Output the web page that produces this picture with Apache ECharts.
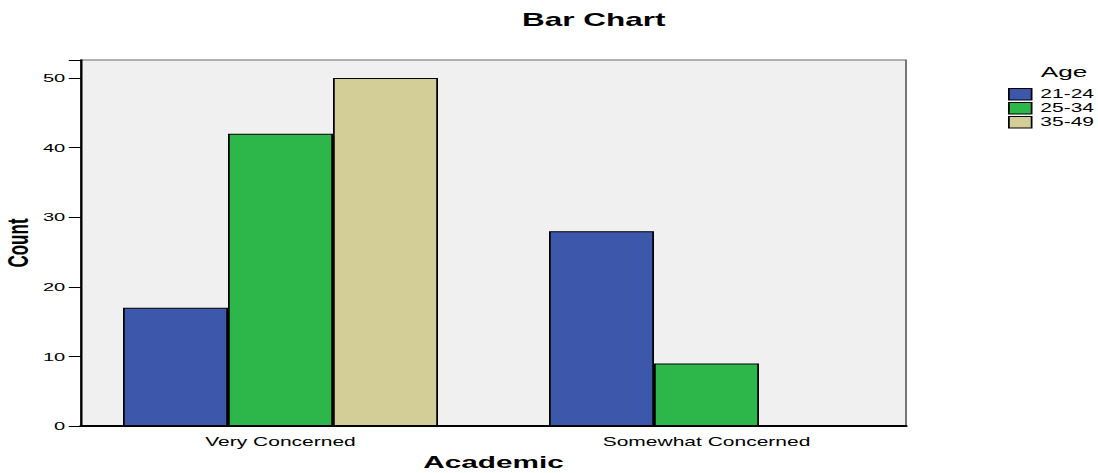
<!DOCTYPE html>
<html>
<head>
<meta charset="utf-8">
<script src="https://cdn.jsdelivr.net/npm/echarts@6/dist/echarts.min.js"></script>
<style>
  html, body { margin: 0; padding: 0; background: #fff; overflow: hidden; }
  /* the original picture is stretched sideways, so draw narrow and stretch the same way */
  #myBarChart {
    width: 627.43px;
    height: 473px;
    transform: scaleX(1.75);
    transform-origin: 0 0;
  }
</style>
</head>
<body>
<div id="myBarChart"></div>
<script>
// data
const categories = ['Very Concerned', 'Somewhat Concerned'];
const ageGroups = ['21-24', '25-34', '35-49'];
const age21to24 = [17, 28];
const age25to34 = [42, 9];
const age35to49 = [50, null];   // no bar drawn for Somewhat Concerned
const yTicks = [0, 10, 20, 30, 40, 50];

const colors = ['#3d57ab', '#2db74b', '#d3cd98'];
const seriesValues = [age21to24, age25to34, age35to49];

const yMax = 52.6;

let option = {
  animation: false,
  textStyle: { fontFamily: 'Liberation Sans, Arial, sans-serif' },
  title: [
    {
      text: 'Bar Chart',
      left: 334.3, top: 6, textAlign: 'center',
      textStyle: { fontSize: 18, fontWeight: 'bold', color: '#000' }
    },
    {
      text: 'Age',
      left: 603, top: 60, textAlign: 'center',
      textStyle: { fontSize: 15, fontWeight: 'normal', color: '#000' }
    }
  ],
  legend: {
    data: ageGroups,
    orient: 'vertical',
    left: 571, top: 83,
    itemWidth: 13, itemHeight: 11.5, itemGap: 1.5,
    icon: 'rect',
    itemStyle: { borderColor: '#000', borderWidth: 1 },
    textStyle: { fontSize: 12, color: '#000' }
  },
  grid: [
    {
      left: 46.29, top: 60, width: 471.43, height: 366,
      outerBoundsMode: 'none', containLabel: false,
      show: true, backgroundColor: '#f0f0f0',
      borderColor: '#666', borderWidth: 1
    },
    {
      left: 38.57, top: 60, width: 486.86, height: 366,
      outerBoundsMode: 'none', containLabel: false
    }
  ],
  xAxis: [
    {
      gridIndex: 0, type: 'category', data: categories,
      axisLine: { lineStyle: { color: '#000', width: 2 } },
      axisTick: { show: false }, axisLabel: { show: false }
    },
    {
      gridIndex: 1, type: 'category', data: categories,
      name: 'Academic', nameLocation: 'middle', nameGap: 28,
      nameMoveOverlap: false,
      nameTextStyle: { fontSize: 17, fontWeight: 'bold', color: '#000' },
      axisLine: { show: false },
      axisTick: { alignWithLabel: true, length: 5, lineStyle: { color: '#000' } },
      axisLabel: { fontSize: 12, color: '#000', margin: 10 }
    }
  ],
  yAxis: [
    {
      gridIndex: 0, type: 'value', min: 0, max: yMax, interval: 10,
      name: 'Count', nameLocation: 'middle', nameGap: 28,
      nameMoveOverlap: false,
      nameTextStyle: { fontSize: 17, fontWeight: 'bold', color: '#000' },
      axisLine: { show: true, lineStyle: { color: '#000', width: 1.3 } },
      axisTick: { show: true, length: 7, lineStyle: { color: '#000', width: 1 } },
      axisLabel: {
        fontSize: 11.5, color: '#000', margin: 9,
        formatter: v => (yTicks.indexOf(v) >= 0 ? String(v) : '')
      },
      splitLine: { show: false }
    },
    {
      gridIndex: 1, type: 'value', min: 0, max: yMax, interval: 10,
      show: false
    }
  ],
  series: ageGroups.map((name, i) => ({
    name: name,
    type: 'bar',
    xAxisIndex: 1,
    yAxisIndex: 1,
    barWidth: 60,
    barGap: '0%',
    data: seriesValues[i],
    itemStyle: { color: colors[i], borderColor: '#000', borderWidth: 1 }
  }))
};

let myChart = echarts.init(document.querySelector('#myBarChart'), null, { renderer: 'svg' });
myChart.setOption(option);
</script>
</body>
</html>
